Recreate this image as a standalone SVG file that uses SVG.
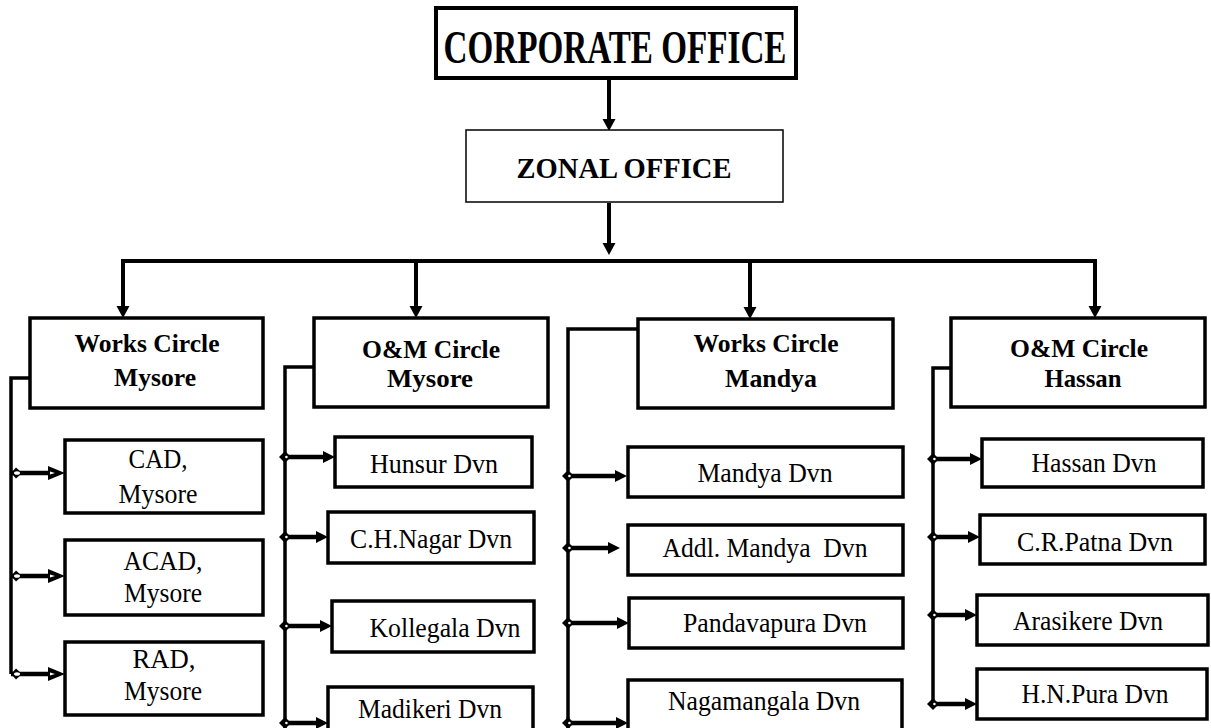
<svg xmlns="http://www.w3.org/2000/svg" width="1211" height="728" viewBox="0 0 1211 728">
<style>
.box{fill:#fff;stroke:#000;stroke-width:3.5}
.thin{fill:#fff;stroke:#000;stroke-width:1.5}
text{font-family:'Liberation Serif','Times New Roman',Tinos,Times,serif;fill:#000;text-anchor:middle}
.b{font-weight:bold;font-size:26px}
.r{font-size:27.5px;white-space:pre}
.ln{fill:none;stroke:#000;stroke-width:4}
.br{fill:none;stroke:#000;stroke-width:3.5}
.cn{fill:none;stroke:#000;stroke-width:4.5}
</style>
<defs>
<marker id="down" markerUnits="userSpaceOnUse" markerWidth="13" markerHeight="13" refX="4" refY="6.5" orient="auto" overflow="visible">
<path d="M0,0 L12,6.5 L0,13 z" fill="#000"/>
</marker>
<marker id="arr" markerUnits="userSpaceOnUse" markerWidth="12" markerHeight="12" refX="4" refY="6" orient="auto" overflow="visible">
<path d="M0,0 L12,6 L0,12 z" fill="#000"/>
</marker>
<marker id="dia" markerUnits="userSpaceOnUse" markerWidth="12" markerHeight="12" refX="6" refY="6" orient="auto" overflow="visible">
<path d="M0,6 L6,0 L12,6 L6,12 z" fill="#000"/>
<circle cx="7.4" cy="6" r="1.3" fill="#fff"/>
</marker>
<marker id="arr1" markerUnits="userSpaceOnUse" markerWidth="18" markerHeight="14" refX="4" refY="7" orient="auto" overflow="visible">
<path d="M0,0 L17,7 L0,14 z" fill="#000"/>
<path d="M2,5.5 L7,7 L2,8.5 z" fill="#fff"/>
</marker>
<marker id="dia1" markerUnits="userSpaceOnUse" markerWidth="14" markerHeight="14" refX="0" refY="6.5" orient="auto" overflow="visible">
<path d="M0,6.5 L5,1 L11,6.5 L5,12 z" fill="#000"/>
<ellipse cx="6" cy="6.5" rx="3" ry="1.8" fill="#fff"/>
</marker>
</defs>

<g id="connectors">
<path class="ln" d="M609,80 V123" marker-end="url(#down)"/>
<path class="ln" d="M609,203 V247" marker-end="url(#down)"/>
<path class="ln" d="M123,261 H1095"/>
<path class="ln" d="M123,259 V310" marker-end="url(#down)"/>
<path class="ln" d="M416,261 V310" marker-end="url(#down)"/>
<path class="ln" d="M750,261 V311" marker-end="url(#down)"/>
<path class="ln" d="M1095,259 V310" marker-end="url(#down)"/>
<path class="br" d="M30,378 H11 V674"/>
<path class="br" d="M314,367 H285 V730"/>
<path class="br" d="M638,329 H568 V730"/>
<path class="br" d="M951,368 H933 V705"/>
<path class="cn" d="M11,473 H52" marker-start="url(#dia1)" marker-end="url(#arr1)"/>
<path class="cn" d="M11,576 H52" marker-start="url(#dia1)" marker-end="url(#arr1)"/>
<path class="cn" d="M11,674 H52" marker-start="url(#dia1)" marker-end="url(#arr1)"/>
<path class="cn" d="M285,457 H327" marker-start="url(#dia)" marker-end="url(#arr)"/>
<path class="cn" d="M285,537 H320" marker-start="url(#dia)" marker-end="url(#arr)"/>
<path class="cn" d="M285,626 H324" marker-start="url(#dia)" marker-end="url(#arr)"/>
<path class="cn" d="M285,723 H320" marker-start="url(#dia)" marker-end="url(#arr)"/>
<path class="cn" d="M568,476 H619" marker-start="url(#dia)" marker-end="url(#arr)"/>
<path class="cn" d="M568,548 H612" marker-start="url(#dia)" marker-end="url(#arr)"/>
<path class="cn" d="M568,623 H621" marker-start="url(#dia)" marker-end="url(#arr)"/>
<path class="cn" d="M568,723 H620" marker-start="url(#dia)" marker-end="url(#arr)"/>
<path class="cn" d="M933,459 H974" marker-start="url(#dia)" marker-end="url(#arr)"/>
<path class="cn" d="M933,537 H972" marker-start="url(#dia)" marker-end="url(#arr)"/>
<path class="cn" d="M933,615 H969" marker-start="url(#dia)" marker-end="url(#arr)"/>
<path class="cn" d="M933,704 H969" marker-start="url(#dia)" marker-end="url(#arr)"/>
</g>

<g id="corporate">
<rect class="box" x="436" y="8" width="360" height="70" style="stroke-width:4"/>
<text x="615" y="63" font-weight="bold" font-size="46" textLength="343" lengthAdjust="spacingAndGlyphs">CORPORATE OFFICE</text>
</g>
<g id="zonal">
<rect class="thin" x="466" y="130" width="317" height="72"/>
<text x="624" y="178" font-weight="bold" font-size="30" textLength="215" lengthAdjust="spacingAndGlyphs">ZONAL OFFICE</text>
</g>

<g id="wc-mysore">
<rect class="box" x="30" y="318" width="233" height="90"/>
<text class="b" x="147" y="352" textLength="145" lengthAdjust="spacingAndGlyphs">Works Circle</text>
<text class="b" x="155" y="386" textLength="82" lengthAdjust="spacingAndGlyphs">Mysore</text>
</g>
<g id="om-mysore">
<rect class="box" x="314" y="318" width="234" height="89"/>
<text class="b" x="431" y="358" textLength="138" lengthAdjust="spacingAndGlyphs">O&amp;M Circle</text>
<text class="b" x="430" y="387" textLength="86" lengthAdjust="spacingAndGlyphs">Mysore</text>
</g>
<g id="wc-mandya">
<rect class="box" x="638" y="319" width="255" height="89"/>
<text class="b" x="766" y="352" textLength="145" lengthAdjust="spacingAndGlyphs">Works Circle</text>
<text class="b" x="771" y="387" textLength="92" lengthAdjust="spacingAndGlyphs">Mandya</text>
</g>
<g id="om-hassan">
<rect class="box" x="951" y="318" width="254" height="89"/>
<text class="b" x="1079" y="357" textLength="138" lengthAdjust="spacingAndGlyphs">O&amp;M Circle</text>
<text class="b" x="1083" y="387" textLength="77" lengthAdjust="spacingAndGlyphs">Hassan</text>
</g>

<g id="cad">
<rect class="box" x="65" y="440" width="198" height="73"/>
<text class="r" x="158" y="468" textLength="59" lengthAdjust="spacingAndGlyphs">CAD,</text>
<text class="r" x="158" y="503" textLength="79" lengthAdjust="spacingAndGlyphs">Mysore</text>
</g>
<g id="acad">
<rect class="box" x="65" y="540" width="198" height="75"/>
<text class="r" x="163" y="570" textLength="79" lengthAdjust="spacingAndGlyphs">ACAD,</text>
<text class="r" x="163" y="602" textLength="78" lengthAdjust="spacingAndGlyphs">Mysore</text>
</g>
<g id="rad">
<rect class="box" x="65" y="642" width="198" height="73"/>
<text class="r" x="164" y="668" textLength="63" lengthAdjust="spacingAndGlyphs">RAD,</text>
<text class="r" x="163" y="700" textLength="78" lengthAdjust="spacingAndGlyphs">Mysore</text>
</g>

<g id="hunsur">
<rect class="box" x="335" y="437" width="197" height="50"/>
<text class="r" x="434" y="473" textLength="128" lengthAdjust="spacingAndGlyphs">Hunsur Dvn</text>
</g>
<g id="chnagar">
<rect class="box" x="328" y="512" width="206" height="51"/>
<text class="r" x="431" y="548" textLength="162" lengthAdjust="spacingAndGlyphs">C.H.Nagar Dvn</text>
</g>
<g id="kollegala">
<rect class="box" x="332" y="601" width="202" height="51"/>
<text class="r" x="445" y="637" textLength="151" lengthAdjust="spacingAndGlyphs">Kollegala Dvn</text>
</g>
<g id="madikeri">
<rect class="box" x="328" y="687" width="205" height="48"/>
<text class="r" x="430" y="718" textLength="144" lengthAdjust="spacingAndGlyphs">Madikeri Dvn</text>
</g>

<g id="mandya">
<rect class="box" x="628" y="447" width="275" height="50"/>
<text class="r" x="765" y="482" textLength="135" lengthAdjust="spacingAndGlyphs">Mandya Dvn</text>
</g>
<g id="addl-mandya">
<rect class="box" x="628" y="525" width="275" height="50"/>
<text class="r" x="765" y="557" textLength="205" lengthAdjust="spacingAndGlyphs">Addl. Mandya  Dvn</text>
</g>
<g id="pandavapura">
<rect class="box" x="629" y="598" width="274" height="50"/>
<text class="r" x="775" y="632" textLength="184" lengthAdjust="spacingAndGlyphs">Pandavapura Dvn</text>
</g>
<g id="nagamangala">
<rect class="box" x="628" y="680" width="274" height="55"/>
<text class="r" x="764" y="710" textLength="192" lengthAdjust="spacingAndGlyphs">Nagamangala Dvn</text>
</g>

<g id="hassan">
<rect class="box" x="982" y="439" width="221" height="48"/>
<text class="r" x="1094" y="472" textLength="125" lengthAdjust="spacingAndGlyphs">Hassan Dvn</text>
</g>
<g id="crpatna">
<rect class="box" x="980" y="515" width="225" height="49"/>
<text class="r" x="1095" y="551" textLength="156" lengthAdjust="spacingAndGlyphs">C.R.Patna Dvn</text>
</g>
<g id="arasikere">
<rect class="box" x="977" y="595" width="231" height="50"/>
<text class="r" x="1088" y="630" textLength="150" lengthAdjust="spacingAndGlyphs">Arasikere Dvn</text>
</g>
<g id="hnpura">
<rect class="box" x="977" y="669" width="230" height="50"/>
<text class="r" x="1095" y="703" textLength="147" lengthAdjust="spacingAndGlyphs">H.N.Pura Dvn</text>
</g>
</svg>
